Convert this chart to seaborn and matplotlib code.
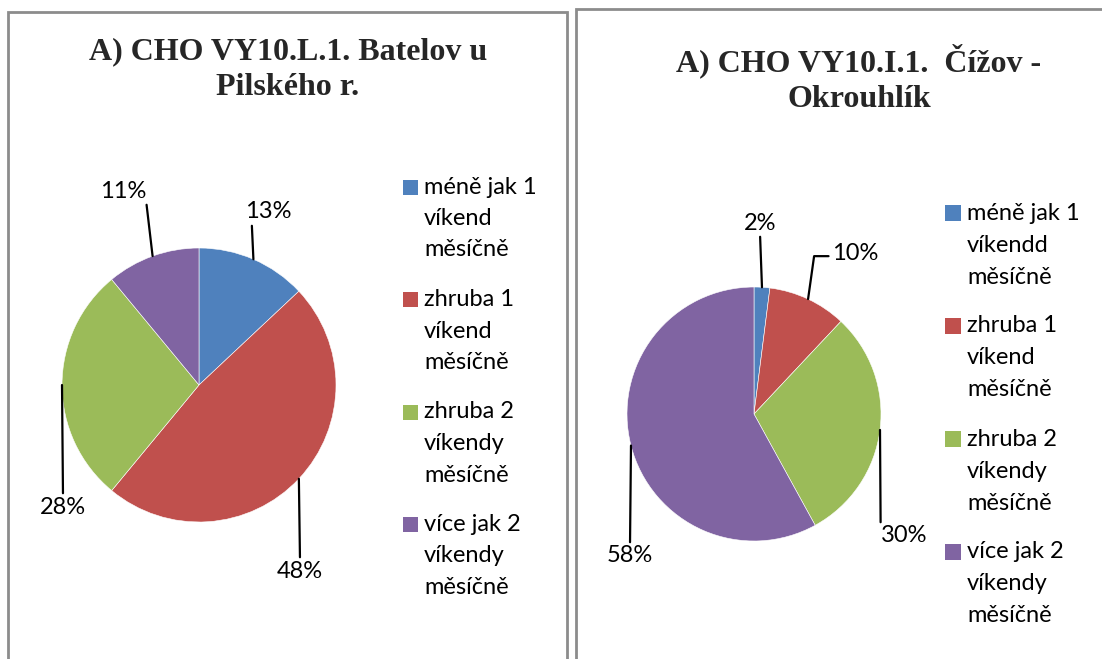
import numpy as np
import matplotlib.pyplot as plt
import seaborn as sns
from matplotlib.patches import Rectangle

# Configure plot style
sns.set_theme(style='white')
plt.rcParams['font.family'] = ['Lato', 'DejaVu Sans']

W, H = 1102, 659

# Data
categories_left = ['méně jak 1\nvíkend\nměsíčně', 'zhruba 1\nvíkend\nměsíčně',
                   'zhruba 2\nvíkendy\nměsíčně', 'více jak 2\nvíkendy\nměsíčně']
categories_right = ['méně jak 1\nvíkendd\nměsíčně', 'zhruba 1\nvíkend\nměsíčně',
                    'zhruba 2\nvíkendy\nměsíčně', 'více jak 2\nvíkendy\nměsíčně']
values_left = [13, 48, 28, 11]
values_right = [2, 10, 30, 58]
title_left = 'A) CHO VY10.L.1. Batelov u\nPilského r.'
title_right = 'A) CHO VY10.I.1.  Čížov -\nOkrouhlík'

colors = sns.color_palette(['#4F81BD', '#C0504D', '#9BBB59', '#8064A2'])

# Layout of each panel (pixels)
panels = [
    dict(values=values_left, cats=categories_left, title=title_left,
         center=(199, 385), radius=137, title_xy=(288, 70),
         label_xy=[(268, 212), (300, 571), (63, 507), (123, 191)],
         relpos=[(0.15, 0), (0.5, 1), (0.5, 1), (1, 0)],
         conn=['arc3'] * 4,
         legend_xy=(403, 187), line_step=31.5, entry_step=112.5, sq=15,
         frame=(8, 12)),
    dict(values=values_right, cats=categories_right, title=title_right,
         center=(754, 414), radius=127, title_xy=(859, 79),
         label_xy=[(760, 223), (855, 253), (904, 536), (630, 556)],
         relpos=[(0.5, 0), (0, 0.35), (0, 0.1), (0.5, 1)],
         conn=['arc3', 'angle,angleA=0,angleB=82,rad=0', 'arc3', 'arc3'],
         legend_xy=(945, 213), line_step=32, entry_step=113, sq=16,
         frame=(576, 9)),
]


def fx(x):
    return x / W


def fy(y):
    return 1 - y / H


fig = plt.figure(figsize=(W / 100, H / 100), dpi=100)
fig.patch.set_facecolor('white')

for p in panels:
    # panel frame (runs off the bottom / right of the picture)
    x0, y0 = p['frame']
    fw = 559 if x0 < 100 else 600
    fig.add_artist(Rectangle((fx(x0), fy(y0 + 700)), fw / W, 700 / H,
                             transform=fig.transFigure, fill=False,
                             edgecolor='#8c8c8c', lw=2, zorder=0))

    cx, cy = p['center']
    r = p['radius']
    ax = fig.add_axes([fx(cx - r), fy(cy + r), 2 * r / W, 2 * r / H])
    wedges, _ = ax.pie(p['values'], colors=colors, startangle=90,
                       counterclock=False, radius=1,
                       wedgeprops=dict(edgecolor='white', linewidth=0.4))
    ax.set_xlim(-1, 1)
    ax.set_ylim(-1, 1)
    ax.axis('off')

    total = sum(p['values'])
    start = 90.0
    for i, v in enumerate(p['values']):
        span = 360.0 * v / total
        mid = np.deg2rad(start - span / 2)
        start -= span
        tx, ty = p['label_xy'][i]
        ax.annotate(f'{v}%', xy=(np.cos(mid), np.sin(mid)), xycoords='data',
                    xytext=(tx, H - ty), textcoords='figure pixels',
                    ha='center', va='center', fontsize=17, color='black',
                    annotation_clip=False,
                    arrowprops=dict(arrowstyle='-', color='black', lw=1.6,
                                    relpos=p['relpos'][i], shrinkA=0,
                                    shrinkB=0, connectionstyle=p['conn'][i]))

    # title
    tx, ty = p['title_xy']
    fig.text(fx(tx), fy(ty), p['title'], ha='center', va='center',
             fontsize=23, fontweight='bold', family='Liberation Serif',
             linespacing=1.3)

    # legend, drawn by hand so the swatch sits on the first text line
    lx, ly = p['legend_xy']
    sq = p['sq']
    for i, cat in enumerate(p['cats']):
        y_first = ly + i * p['entry_step']
        fig.add_artist(Rectangle((fx(lx), fy(y_first + sq / 2)), sq / W, sq / H,
                                 transform=fig.transFigure, facecolor=colors[i],
                                 edgecolor='none'))
        for j, line in enumerate(cat.split('\n')):
            fig.text(fx(lx + sq + 6), fy(y_first + j * p['line_step']), line,
                     ha='left', va='center', fontsize=17, color='black')

plt.savefig('out.png', dpi=100)
